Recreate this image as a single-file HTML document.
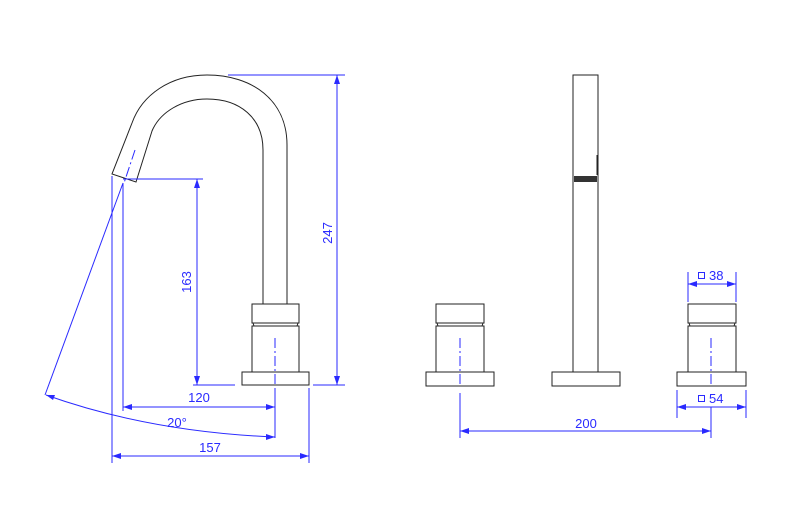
<!DOCTYPE html>
<html><head><meta charset="utf-8"><style>body{margin:0;background:#fff}svg{display:block}</style></head><body>
<svg width="800" height="513" viewBox="0 0 800 513" xmlns="http://www.w3.org/2000/svg" font-family="Liberation Sans, sans-serif">
<g fill="none" stroke="#222" stroke-width="1">
<path d="M287 304 L287 145 C287 100 252 75 207 75 C170 75 142 95 132 123 L112 174 L136 182 L152 131 C160 112 182 99 207 99 C240 99 263 118 263 150 L263 304"/>
<rect x="252" y="304" width="47" height="19"/>
<rect x="252" y="326" width="47" height="46"/>
<path d="M253 323 L254 326 M298 323 L297 326"/>
<rect x="242" y="372" width="67" height="13"/>
<rect x="436" y="304" width="48" height="19"/>
<rect x="436" y="326" width="48" height="46"/>
<path d="M437 323 L438 326 M483 323 L482 326"/>
<rect x="426" y="372" width="68" height="14"/>
<rect x="688" y="304" width="48" height="19"/>
<rect x="688" y="326" width="48" height="46"/>
<path d="M689 323 L690 326 M735 323 L734 326"/>
<rect x="677" y="372" width="69" height="14"/>
<rect x="573" y="75" width="25" height="297"/>
<rect x="552" y="372" width="68" height="14"/>
<line x1="597" y1="155" x2="597" y2="175"/>
</g>
<rect x="574" y="176" width="23" height="6" fill="#333"/>
<g stroke="#2a2aff" stroke-width="1" fill="none">
<line x1="228" y1="75" x2="345" y2="75"/>
<line x1="337" y1="75" x2="337" y2="385"/>
<line x1="313" y1="385" x2="345" y2="385"/>
<line x1="123" y1="179" x2="203" y2="179"/>
<line x1="197" y1="179" x2="197" y2="385"/>
<line x1="193" y1="385" x2="235" y2="385"/>
<line x1="123" y1="183" x2="123" y2="411"/>
<line x1="112" y1="176" x2="112" y2="463"/>
<line x1="309" y1="388" x2="309" y2="463"/>
<line x1="275" y1="388" x2="275" y2="438"/>
<line x1="275" y1="338" x2="275" y2="384" stroke-dasharray="10,3,2,3"/>
<line x1="135" y1="150" x2="124" y2="183" stroke-dasharray="10,3,2,3"/>
<line x1="123" y1="407" x2="275" y2="407"/>
<line x1="112" y1="456" x2="309" y2="456"/>
<line x1="123" y1="183" x2="45" y2="395"/>
<path d="M46 395 Q150 432 275 437"/>
<line x1="460" y1="338" x2="460" y2="384" stroke-dasharray="10,3,2,3"/>
<line x1="711" y1="338" x2="711" y2="384" stroke-dasharray="10,3,2,3"/>
<line x1="460" y1="393" x2="460" y2="438"/>
<line x1="711" y1="407" x2="711" y2="438"/>
<line x1="460" y1="431" x2="711" y2="431"/>
<line x1="688" y1="272" x2="688" y2="302"/>
<line x1="736" y1="272" x2="736" y2="302"/>
<line x1="688" y1="284" x2="736" y2="284"/>
<line x1="677" y1="390" x2="677" y2="418"/>
<line x1="746" y1="390" x2="746" y2="418"/>
<line x1="677" y1="407" x2="746" y2="407"/>
<rect x="698.5" y="272.5" width="6" height="6"/>
<rect x="698.5" y="395.5" width="6" height="6"/>
</g>
<g fill="#2a2aff">
<path d="M337 75 l-3 9 h6z M337 385 l-3 -9 h6z"/>
<path d="M197 179 l-3 9 h6z M197 385 l-3 -9 h6z"/>
<path d="M123 407 l9 -3 v6z M275 407 l-9 -3 v6z"/>
<path d="M112 456 l9 -3 v6z M309 456 l-9 -3 v6z"/>
<path d="M46 395 l9 0 l-2 5z M275 437 l-9 -3 v6z"/>
<path d="M460 431 l9 -3 v6z M711 431 l-9 -3 v6z"/>
<path d="M688 284 l9 -3 v6z M736 284 l-9 -3 v6z"/>
<path d="M677 407 l9 -3 v6z M746 407 l-9 -3 v6z"/>
</g>
<g fill="#2a2aff" font-size="13">
<text x="332" y="233" transform="rotate(-90 332 233)" text-anchor="middle">247</text>
<text x="191" y="282" transform="rotate(-90 191 282)" text-anchor="middle">163</text>
<text x="199" y="402" text-anchor="middle">120</text>
<text x="177" y="427" text-anchor="middle">20°</text>
<text x="210" y="452" text-anchor="middle">157</text>
<text x="586" y="428" text-anchor="middle">200</text>
<text x="709" y="280">38</text>
<text x="709" y="403">54</text>
</g>
</svg>
</body></html>
